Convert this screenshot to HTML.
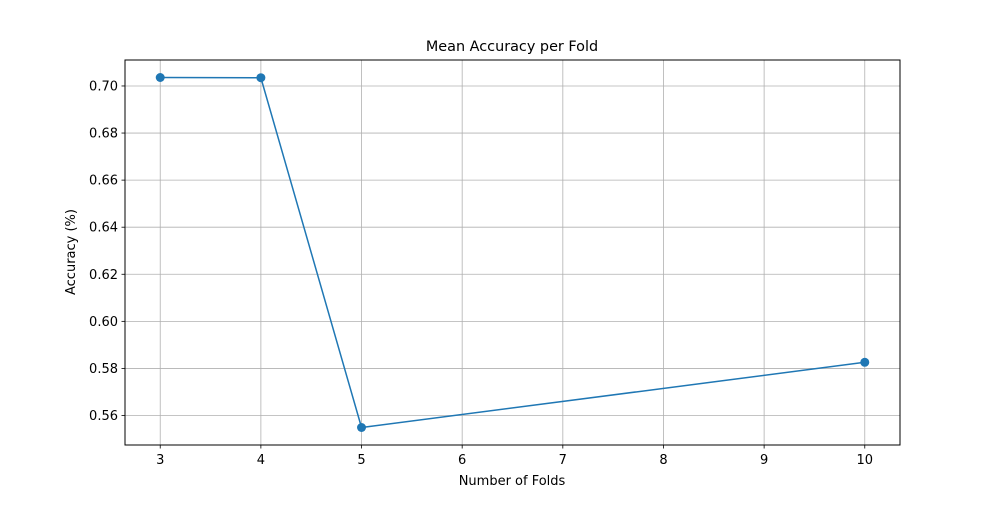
<!DOCTYPE html>
<html><head><meta charset="utf-8"><style>
body{margin:0;background:#fff;}
svg text{font-family:"DejaVu Sans","Liberation Sans",sans-serif;fill:#000;}
</style></head><body>
<svg id="chart" width="1000" height="500" xmlns="http://www.w3.org/2000/svg">
<rect width="1000" height="500" fill="#fff"/>
<g id="grid"></g>
<g id="ticks"></g>
<g id="series"></g>
<rect x="125" y="60" width="775" height="385" fill="none" stroke="#000" stroke-width="1"/>
<text x="512" y="51" font-size="14.4" text-anchor="middle">Mean Accuracy per Fold</text>
<text x="512" y="485" font-size="13" text-anchor="middle">Number of Folds</text>
<text x="75" y="252" font-size="13" text-anchor="middle" transform="rotate(-90 75 252)">Accuracy (%)</text>
</svg>
<script>
const folds = [3, 4, 5, 10];
const accuracy = [0.7036, 0.7035, 0.5549, 0.5826];
const xTicks = [3, 4, 5, 6, 7, 8, 9, 10];
const yTicks = [0.56, 0.58, 0.60, 0.62, 0.64, 0.66, 0.68, 0.70];

const L = 125, R = 900, T = 60, B = 445;
const ns = "http://www.w3.org/2000/svg";
const xmin0 = Math.min(...folds), xmax0 = Math.max(...folds);
const xm = (xmax0 - xmin0) * 0.05;
const ymin0 = Math.min(...accuracy), ymax0 = Math.max(...accuracy);
const ym = (ymax0 - ymin0) * 0.05;
const xS = v => L + (v - (xmin0 - xm)) / ((xmax0 + xm) - (xmin0 - xm)) * (R - L);
const yS = v => B - (v - (ymin0 - ym)) / ((ymax0 + ym) - (ymin0 - ym)) * (B - T);
function mk(tag, attrs, parent) {
  const e = document.createElementNS(ns, tag);
  for (const k in attrs) e.setAttribute(k, attrs[k]);
  parent.appendChild(e);
  return e;
}
const grid = document.getElementById('grid');
const ticks = document.getElementById('ticks');
const series = document.getElementById('series');
xTicks.forEach(t => {
  const x = xS(t);
  const g = mk('line', {x1: x, x2: x, y1: T, y2: B, stroke: '#b0b0b0', 'stroke-width': 0.8}, grid);
  
  
  const tk = mk('line', {x1: x, x2: x, y1: B, y2: B + 3.5, stroke: '#000', 'stroke-width': 0.8}, ticks);
  
  
  const tx = mk('text', {x: x, y: B + 19, 'font-size': 13, 'text-anchor': 'middle'}, ticks);
  tx.textContent = t;
  
  
});
yTicks.forEach(t => {
  const y = yS(t);
  const g = mk('line', {x1: L, x2: R, y1: y, y2: y, stroke: '#b0b0b0', 'stroke-width': 0.8}, grid);
  
  
  const tk = mk('line', {x1: L - 3.5, x2: L, y1: y, y2: y, stroke: '#000', 'stroke-width': 0.8}, ticks);
  
  
  const tx = mk('text', {x: L - 7, y: y + 4.5, 'font-size': 13, 'text-anchor': 'end'}, ticks);
  tx.textContent = t.toFixed(2);
  
  
});
const pts = folds.map((f, i) => xS(f) + ',' + yS(accuracy[i])).join(' ');
const pl = mk('polyline', {points: pts, fill: 'none', stroke: '#1f77b4', 'stroke-width': 1.5}, series);


folds.forEach((f, i) => {
  const c = mk('circle', {cx: xS(f), cy: yS(accuracy[i]), r: 4.5, fill: '#1f77b4'}, series);
  
  
});
</script>
</body></html>
